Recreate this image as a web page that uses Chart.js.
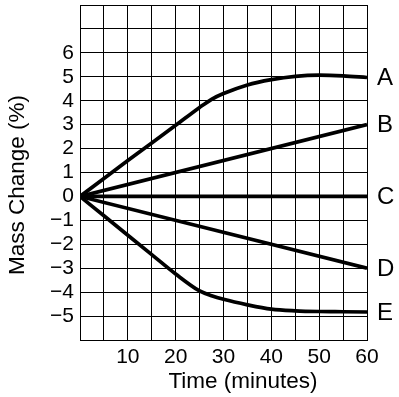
<!DOCTYPE html>
<html>
<head>
<meta charset="utf-8">
<script src="https://cdn.jsdelivr.net/npm/chart.js@4/dist/chart.umd.min.js"></script>
<style>
    html, body { margin: 0; padding: 0; background: #fff; }
    canvas { display: block; }
</style>
</head>
<body>
<canvas id="chart" width="399" height="397"></canvas>
<script>
// Series names shown at the right end of each line
const seriesNames = ['A', 'B', 'C', 'D', 'E'];

// Time points (minutes) and mass change (%) for each series
const timeA = [0, 5, 10, 15, 20, 25, 27.5, 30, 35, 40, 45, 50, 55, 60];
const massA = [0, 0.75, 1.5, 2.23, 2.97, 3.72, 4.06, 4.3, 4.66, 4.88, 5.02, 5.07, 5.04, 4.97];

const timeB = [0, 60];
const massB = [0, 3];

const timeC = [0, 60];
const massC = [0, 0];

const timeD = [0, 60];
const massD = [0, -3];

const timeE = [0, 5, 10, 15, 20, 25, 27.5, 30, 35, 40, 45, 50, 55, 60];
const massE = [0, -0.81, -1.62, -2.43, -3.24, -3.95, -4.15, -4.3, -4.53, -4.71, -4.78, -4.81, -4.82, -4.83];

// Tick labels
const xTickLabels = ['10', '20', '30', '40', '50', '60'];
const yTickLabels = ['\u22125', '\u22124', '\u22123', '\u22122', '\u22121', '0', '1', '2', '3', '4', '5', '6'];

const FONT = '"Liberation Sans", Arial, Helvetica, sans-serif';

// Build {x, y} points from two arrays
function toPoints(times, values) {
    return times.map((t, i) => ({ x: t, y: values[i] }));
}

function makeDataset(label, times, values, curved) {
    return {
        label: label,
        data: toPoints(times, values),
        borderColor: '#000',
        borderWidth: 3.7,
        pointRadius: 0,
        fill: false,
        cubicInterpolationMode: curved ? 'monotone' : 'default',
        tension: 0
    };
}

// Draws the axis titles and the A-E labels next to the line ends
const labelsPlugin = {
    id: 'labelsPlugin',
    afterDatasetsDraw(chart) {
        const ctx = chart.ctx;
        const area = chart.chartArea;
        ctx.save();
        ctx.fillStyle = '#000';

        // Series letters at the last point of each line
        ctx.font = '24px ' + FONT;
        ctx.textAlign = 'left';
        ctx.textBaseline = 'middle';
        chart.data.datasets.forEach((ds, i) => {
            const meta = chart.getDatasetMeta(i);
            const last = meta.data[meta.data.length - 1];
            ctx.fillText(seriesNames[i], area.right + 10, last.y + 1);
        });

        // X axis title
        ctx.font = '22.5px ' + FONT;
        ctx.textAlign = 'center';
        ctx.fillText('Time (minutes)', 243, 382);

        // Y axis title, rotated
        ctx.translate(18, 185);
        ctx.rotate(-Math.PI / 2);
        ctx.fillText('Mass Change (%)', 0, 0);
        ctx.restore();
    }
};

const chart = new Chart(document.getElementById('chart'), {
    type: 'line',
    data: {
        datasets: [
            makeDataset('A', timeA, massA, true),
            makeDataset('B', timeB, massB, false),
            makeDataset('C', timeC, massC, false),
            makeDataset('D', timeD, massD, false),
            makeDataset('E', timeE, massE, true)
        ]
    },
    options: {
        responsive: false,
        animation: false,
        layout: {
            padding: { top: 5, right: 32, left: 0, bottom: 0 }
        },
        plugins: {
            legend: { display: false },
            tooltip: { enabled: false }
        },
        scales: {
            x: {
                type: 'linear',
                min: 0,
                max: 60,
                afterFit: scale => {
                    scale.height = 57;
                    scale.paddingLeft = 0;
                    scale.paddingRight = 0;
                },
                grid: { color: '#000', lineWidth: 1, drawTicks: false },
                border: { color: '#000', width: 1 },
                ticks: {
                    stepSize: 5,
                    padding: 5,
                    color: '#000',
                    font: { family: FONT, size: 21 },
                    maxRotation: 0,
                    autoSkip: false,
                    callback: function (value) {
                        const idx = value / 10 - 1;
                        return (value % 10 === 0 && idx >= 0) ? xTickLabels[idx] : '';
                    }
                }
            },
            y: {
                min: -6,
                max: 8,
                afterFit: scale => {
                    // fixed width, and no extra room for the (empty) end labels
                    scale.width = 80;
                    scale.paddingTop = 0;
                    scale.paddingBottom = 0;
                },
                grid: { color: '#000', lineWidth: 1, drawTicks: false },
                border: { color: '#000', width: 1 },
                ticks: {
                    stepSize: 1,
                    padding: 6,
                    color: '#000',
                    font: { family: FONT, size: 21 },
                    autoSkip: false,
                    callback: function (value) {
                        const idx = value + 5;
                        return (idx >= 0 && idx < yTickLabels.length) ? yTickLabels[idx] : '';
                    }
                }
            }
        }
    },
    plugins: [labelsPlugin]
});
</script>
</body>
</html>
